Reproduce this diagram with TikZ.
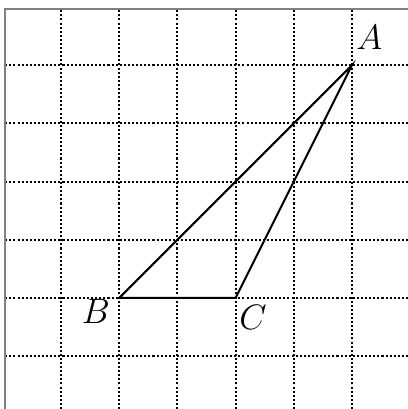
\documentclass[tikz,border=0pt]{standalone}
\usetikzlibrary{calc}
\begin{document}
\begin{tikzpicture}[scale=1, every node/.style={inner sep=0pt, font=\LARGE}]
        \useasboundingbox (-0.05,0.09) rectangle (6.96,7.12);
        % grid
        \foreach \i in {1,...,6}
            \draw[densely dotted, line width=1pt] (\i,0.09) -- (\i,6.96);
        \foreach \j in {1,...,6}
            \draw[densely dotted, line width=1pt] (0.04,\j) -- (6.96,\j);
        \draw[gray, line width=1pt] (0.04,0.09) -- (0.04,6.96) -- (6.96,6.96);
        \coordinate (A) at (6,6);
        \coordinate (B) at (2,2);
        \coordinate (C) at (4,2);
        \draw[line width=1pt] (A) -- (B) -- (C) -- cycle;
        \node (la) at ($(A)+(0.3,0.47)$) {$A$};
        \node (lb) at ($(B)+(-0.4,-0.24)$) {$B$};
        \node (lc) at ($(C)+(0.3,-0.34)$) {$C$};
    \end{tikzpicture}
\end{document}
